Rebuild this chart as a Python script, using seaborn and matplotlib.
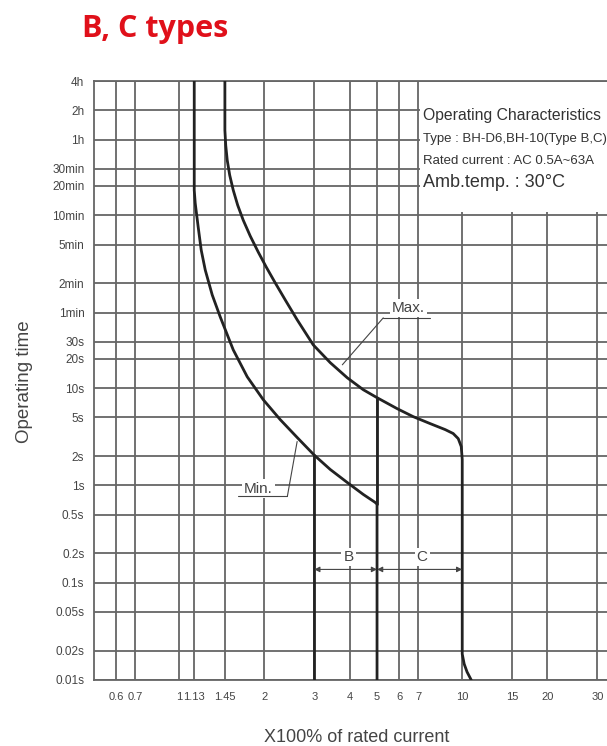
import matplotlib
matplotlib.use('Agg')
import matplotlib.pyplot as plt
import seaborn as sns
import pandas as pd
from matplotlib.patches import Rectangle

## Data
# x = multiple of rated current, t = operating time in seconds
min_x = [1.13, 1.13, 1.139, 1.167, 1.196, 1.236, 1.308, 1.396, 1.552, 1.739, 1.981,
         2.275, 2.612, 3.0, 3.417, 3.924, 4.469, 4.927, 5.0, 5.0]
min_t = [14400, 1087, 799, 453, 263, 164, 91, 54.1, 24.8, 13.1, 7.62,
         4.75, 3.11, 2.05, 1.46, 1.073, 0.809, 0.669, 0.64, 0.01]

max_x = [1.45, 1.45, 1.46, 1.478, 1.508, 1.552, 1.609, 1.683, 1.782, 1.902, 2.03,
         2.184, 2.369, 2.612, 2.975, 3.417, 3.924, 4.469, 5.0, 5.89, 6.71, 7.71,
         8.71, 9.29, 9.68, 9.92, 10.0, 10.0, 10.16, 10.4, 10.76]
max_t = [14400, 4480, 3143, 2207, 1549, 1087, 762, 535, 367, 251, 176,
         121, 80.9, 50.4, 27.9, 18.3, 12.8, 9.65, 7.99, 6.16, 5.10, 4.32,
         3.75, 3.42, 3.03, 2.51, 1.85, 0.0185, 0.0146, 0.0121, 0.01]

# instantaneous limits: B lower bound at 3x, B upper / C lower bound at 5x
b_min_x = [3, 3]
b_min_t = [2.05, 0.01]
b_max_x = [5, 5]
b_max_t = [7.99, 0.64]

x_ticks = [0.6, 0.7, 1, 1.13, 1.45, 2, 3, 4, 5, 6, 7, 10, 15, 20, 30]
x_labels = ['0.6', '0.7', '1', '1.13', '1.45', '2', '3', '4', '5', '6', '7', '10', '15', '20', '30']

y_ticks = [14400, 7200, 3600, 1800, 1200, 600, 300, 120, 60, 30, 20, 10, 5, 2, 1,
           0.5, 0.2, 0.1, 0.05, 0.02, 0.01]
y_labels = ['4h', '2h', '1h', '30min', '20min', '10min', '5min', '2min', '1min', '30s', '20s',
            '10s', '5s', '2s', '1s', '0.5s', '0.2s', '0.1s', '0.05s', '0.02s', '0.01s']

info_lines = ['Operating Characteristics', 'Type : BH-D6,BH-10(Type B,C)',
              'Rated current : AC 0.5A~63A', 'Amb.temp. : 30°C']

sns.set_style('white')
plt.rcParams['font.family'] = ['Liberation Sans', 'DejaVu Sans']

fig = plt.figure(figsize=(6.07, 7.46), dpi=100)
ax = fig.add_axes([0.1549, 0.0885, 0.9325, 0.8029])

grid_col = '#666666'
curve_col = '#222222'
text_col = '#444444'

curves = [(min_x, min_t), (max_x, max_t), (b_min_x, b_min_t), (b_max_x, b_max_t)]
for cx, ct in curves:
    df = pd.DataFrame({'x': cx, 't': ct})
    sns.lineplot(data=df, x='x', y='t', sort=False, estimator=None, color=curve_col,
                 linewidth=2.0, ax=ax, zorder=3, solid_joinstyle='round')

ax.set_xscale('log')
ax.set_yscale('log')
ax.set_xlim(0.5, 50)
ax.set_ylim(0.01, 14400)
ax.minorticks_off()
ax.set_xticks(x_ticks)
ax.set_xticklabels(x_labels)
ax.set_yticks(y_ticks)
ax.set_yticklabels(y_labels)
ax.tick_params(length=0, labelcolor=text_col)
ax.tick_params(axis='x', pad=9, labelsize=8)
ax.tick_params(axis='y', pad=7, labelsize=8.5)
ax.set_xlabel('')
ax.set_ylabel('')
ax.grid(True, color=grid_col, linewidth=1.3, zorder=1)
ax.set_axisbelow(True)
for s in ['left', 'bottom', 'top']:
    ax.spines[s].set_color(grid_col)
    ax.spines[s].set_linewidth(1.3)
ax.spines['right'].set_visible(False)

## Labels on the curves
box = dict(fc='white', ec='none', pad=1.5)
ax.text(6.44, 67, 'Max.', fontsize=11, color=text_col, ha='center', va='center', bbox=box, zorder=4)
ax.plot([5.26, 7.7], [52.9, 52.9], color=text_col, lw=0.8, zorder=4)
ax.plot([5.26, 3.77], [52.9, 17.4], color=text_col, lw=0.8, zorder=4)

ax.text(1.90, 0.93, 'Min.', fontsize=11, color=text_col, ha='center', va='center', bbox=box, zorder=4)
ax.plot([1.616, 2.41], [0.77, 0.77], color=text_col, lw=0.8, zorder=4)
ax.plot([2.41, 2.61], [0.77, 2.83], color=text_col, lw=0.8, zorder=4)

ax.text(3.96, 0.183, 'B', fontsize=11, color=text_col, ha='center', va='center', bbox=box, zorder=4)
ax.text(7.22, 0.183, 'C', fontsize=11, color=text_col, ha='center', va='center', bbox=box, zorder=4)
arr = dict(arrowstyle='<|-|>', color=text_col, lw=0.8, mutation_scale=8, shrinkA=0, shrinkB=0)
ax.annotate('', xy=(3, 0.137), xytext=(5, 0.137), arrowprops=arr, zorder=4)
ax.annotate('', xy=(5, 0.137), xytext=(10, 0.137), arrowprops=arr, zorder=4)

## Info box in the upper right
fig.patches.append(Rectangle((0.692, 0.7158), 0.32, 0.1738, transform=fig.transFigure,
                             facecolor='white', edgecolor='none', zorder=2))
info_y = [0.8458, 0.8137, 0.7842, 0.756]
info_size = [11.3, 9.5, 9.5, 13]
for txt, yy, fs in zip(info_lines, info_y, info_size):
    fig.text(0.697, yy, txt, fontsize=fs, color='#333333', ha='left', va='center', zorder=3)

fig.text(0.135, 0.950, 'B, C types', fontsize=22, fontweight='bold', color='#e0101a',
         family=['Open Sans', 'DejaVu Sans'], ha='left', va='baseline')
fig.text(0.041, 0.489, 'Operating time', fontsize=13.5, color=text_col, rotation=90,
         ha='center', va='center')
fig.text(0.587, 0.011, 'X100% of rated current', fontsize=13, color=text_col,
         ha='center', va='center')

fig.savefig('out.png', dpi=100)
